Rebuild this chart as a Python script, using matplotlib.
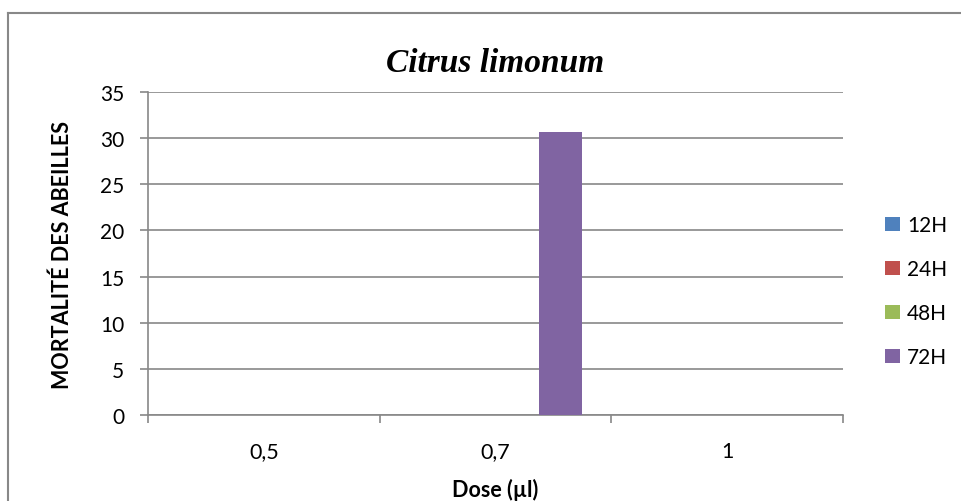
import numpy as np
import matplotlib.pyplot as plt
from matplotlib.lines import Line2D

doses = ["0,5", "0,7", "1"]
series = ["12H", "24H", "48H", "72H"]
couleurs = ["#4F81BD", "#C0504D", "#9BBB59", "#8064A2"]
mortalite_12h = [0, 0, 0]
mortalite_24h = [0, 0, 0]
mortalite_48h = [0, 0, 0]
mortalite_72h = [0, 30.7, 0]
valeurs = [mortalite_12h, mortalite_24h, mortalite_48h, mortalite_72h]

plt.rcParams['font.family'] = ['Lato', 'DejaVu Sans']

fig = plt.figure(figsize=(9.62, 5.02), dpi=100)
ax = fig.add_axes([0.1538, 0.1713, 0.7225, 0.6434])

# bord du cadre (haut et gauche)
fig.lines.append(Line2D([0.008, 1.0], [0.972, 0.972], transform=fig.transFigure,
                        color='#888888', linewidth=1.5))
fig.lines.append(Line2D([0.008, 0.008], [0.0, 0.972], transform=fig.transFigure,
                        color='#888888', linewidth=1.5))

x = np.arange(len(doses))
largeur = 0.187
for i, (nom, val) in enumerate(zip(series, valeurs)):
    pos = x + (i - 1.5) * largeur
    ax.bar(pos, val, width=largeur, color=couleurs[i], label=nom, zorder=3)

ax.set_xlim(-0.5, 2.5)
ax.set_ylim(0, 35)
ax.set_yticks(range(0, 36, 5))
ax.grid(axis='y', color='#888888', linewidth=1.2, zorder=0)

ax.set_xticks(x)
ax.set_xticklabels(doses, fontsize=15.5)
ax.set_xticks([-0.5, 0.5, 1.5, 2.5], minor=True)
ax.tick_params(axis='x', which='major', length=0, pad=19)
ax.tick_params(axis='x', which='minor', length=6, color='#888888', width=1.2)
ax.tick_params(axis='y', length=6, color='#888888', width=1.2, labelsize=15, pad=11)

for s in ['top', 'right']:
    ax.spines[s].set_visible(False)
for s in ['left', 'bottom']:
    ax.spines[s].set_color('#888888')
    ax.spines[s].set_linewidth(1.2)

ax.set_title('Citrus limonum', family='Liberation Serif', style='italic',
             fontweight='bold', fontsize=24, pad=15)
ax.set_xlabel('Dose (µl)', fontsize=15.5, fontweight='bold')
ax.set_ylabel('MORTALITÉ DES ABEILLES', fontsize=15.5, fontweight='bold')
ax.xaxis.set_label_coords(0.5, -0.195)
ax.yaxis.set_label_coords(-0.108, 0.5)

ax.legend(loc='center left', bbox_to_anchor=(0.92, 0.418),
          bbox_transform=fig.transFigure, frameon=False, borderaxespad=0,
          borderpad=0, fontsize=15, handlelength=0.7, handleheight=0.7,
          handletextpad=0.35, labelspacing=1.15)

fig.savefig('out.png', dpi=100)
